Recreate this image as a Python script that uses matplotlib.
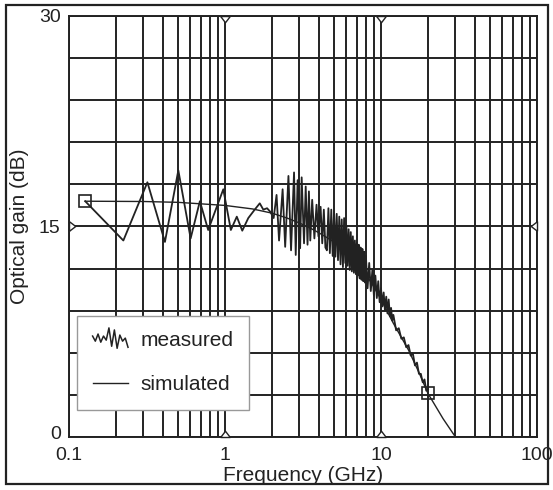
import numpy as np
import matplotlib.pyplot as plt
from matplotlib.legend_handler import HandlerBase
from matplotlib.lines import Line2D
from matplotlib.patches import Rectangle
from matplotlib.transforms import ScaledTranslation

plt.rcParams['font.family'] = ['Liberation Sans', 'DejaVu Sans']

# measured gain (GHz, dB)
f_meas = [0.127, 0.223, 0.318, 0.412, 0.502, 0.602, 0.69, 0.78, 0.975, 1.09,
          1.19, 1.29, 1.41, 1.55, 1.67, 1.76, 1.86, 1.95, 2.05, 2.14,
          2.22, 2.34, 2.43, 2.55, 2.65, 2.77, 2.84, 2.92, 3.03, 3.10,
          3.21, 3.29, 3.38, 3.45, 3.52, 3.62, 3.74, 3.86, 3.97, 4.1,
          4.2, 4.3, 4.4, 4.5, 4.6, 4.7, 4.8, 4.9, 5.0, 5.1,
          5.2, 5.3, 5.4, 5.5, 5.6, 5.7, 5.8, 5.9, 6.0, 6.1,
          6.2, 6.3, 6.4, 6.5, 6.6, 6.7, 6.8, 6.9, 7.0, 7.1,
          7.2, 7.3, 7.4, 7.5, 7.6, 7.7, 7.8, 7.9, 8.0, 8.2,
          8.4, 8.6, 8.8, 9.0, 9.2, 9.4, 9.6, 9.8, 10.0, 10.2,
          10.4, 10.6, 10.8, 11.0, 11.2, 11.4, 11.6, 11.8, 12.0, 12.5,
          13.0, 13.5, 14.0, 14.5, 15.0, 15.5, 16.0, 16.5, 17.0, 17.5,
          18.0, 18.5, 19.0, 19.5, 20.0]
g_meas = [16.8, 14.0, 18.15, 13.9, 19.0, 14.15, 16.8, 14.75, 17.65, 14.75,
          15.7, 14.7, 15.6, 16.2, 16.65, 16.2, 16.3, 16.05, 15.6, 17.25,
          14.0, 17.65, 13.55, 18.6, 13.3, 18.85, 12.97, 18.3, 13.45, 18.5,
          13.8, 17.85, 13.7, 17.5, 14.0, 16.9, 14.15, 16.55, 14.3, 16.4,
          13.8, 16.2, 13.5, 13.3, 16.3, 13.1, 16.2, 12.9, 16.1, 12.85,
          15.9, 12.6, 15.7, 12.3, 15.5, 12.1, 15.6, 12.4, 15.0, 12.2,
          14.8, 11.9, 14.6, 11.8, 14.3, 11.7, 14.0, 11.6, 13.8, 11.5,
          13.7, 11.3, 13.5, 11.2, 13.4, 11.1, 13.2, 11.0, 12.9, 10.6,
          12.4, 10.4, 11.9, 10.1, 11.5, 9.9, 11.1, 9.6, 10.6, 9.3,
          10.3, 9.0, 10.0, 8.8, 9.8, 8.6, 9.2, 8.3, 8.7, 7.6,
          7.75, 7.0, 7.1, 6.4, 6.55, 5.8, 5.95, 5.1, 5.3, 4.5,
          4.5, 3.9, 4.1, 3.3, 3.4]

# simulated response
f_sim = [0.127, 0.3, 0.5, 1.0, 1.5, 2.0, 2.5, 3.0, 3.5, 4.0, 5.0, 6.0, 7.0,
         8.0, 9.0, 10.0, 12.0, 15.0, 17.5, 20.0, 25.0, 30.0]
g_sim = [16.8, 16.78, 16.72, 16.5, 16.25, 15.95, 15.6, 15.25, 14.9, 14.55,
         13.9, 13.2, 12.45, 11.6, 10.7, 9.8, 8.1, 6.2, 4.6, 3.1, 1.3, 0.0]

# marked points and cursor positions
f_marks = [0.127, 20.0]
g_marks = [16.8, 3.1]
cursor_f = [1, 10]
cursor_g = [15]

x_ticks = [0.1, 1, 10, 100]
x_ticklabels = ['0.1', '1', '10', '100']
y_ticks = [0, 15, 30]

ink = '#222222'


class ZigzagHandler(HandlerBase):
    def create_artists(self, legend, orig_handle, xdescent, ydescent,
                       width, height, fontsize, trans):
        xs = np.linspace(0, 1, 14)
        ys = np.array([0.3, -0.2, 0.5, -0.3, 0.3, -0.1, 1.1, -0.7, 0.9,
                       -0.9, 0.4, -0.2, 0.1, -0.8])
        ln = Line2D(-xdescent + xs * width,
                    -ydescent + height / 2 + ys * height * 0.7,
                    color=ink, lw=1.1)
        ln.set_transform(trans)
        return [ln]


fig = plt.figure(figsize=(5.53, 4.90), dpi=100)
ax = fig.add_axes([0.1248, 0.1082, 0.8463, 0.8592])
fig.patches.append(Rectangle((0.011, 0.012), 0.98, 0.978, transform=fig.transFigure,
                             fill=False, ec=ink, lw=1.6))

ax.set_xscale('log')
ax.set_xlim(0.1, 100)
ax.set_ylim(0, 30)
ax.set_xticks(x_ticks)
ax.set_xticklabels(x_ticklabels)
ax.set_yticks(y_ticks)
ax.set_yticks(np.arange(0, 31, 3), minor=True)
ax.tick_params(which='both', length=0, labelsize=14, colors=ink)
ax.tick_params(axis='y', pad=6)
ax.tick_params(axis='x', pad=7)
ax.grid(True, which='both', color=ink, lw=1.4)
for s in ax.spines.values():
    s.set_color(ink)
    s.set_linewidth(1.4)

# nudge the "0" label up a little, as in the original
zero_lab = ax.get_yticklabels()[0]
zero_lab.set_transform(zero_lab.get_transform() + ScaledTranslation(0, 4 / 100, fig.dpi_scale_trans))

meas, = ax.plot(f_meas, g_meas, color=ink, lw=1.3, label='measured')
sim, = ax.plot(f_sim, g_sim, color=ink, lw=1.0, label='simulated')
ax.plot(f_marks, g_marks, ls='none', marker='s', ms=8, mfc='none', mec=ink, mew=1.2)

down = [(-1, 0), (1, 0), (0, -1.3), (-1, 0)]
up = [(-1, 0), (1, 0), (0, 1.3), (-1, 0)]
right = [(0, -1), (0, 1), (1.3, 0), (0, -1)]
left = [(0, -1), (0, 1), (-1.3, 0), (0, -1)]
kw = dict(ls='none', ms=9, mfc='white', mec=ink, mew=1.0, clip_on=False, zorder=5)
ax.plot(cursor_f, [30] * len(cursor_f), marker=down, **kw)
ax.plot(cursor_f, [0] * len(cursor_f), marker=up, **kw)
ax.plot([0.1], cursor_g, marker=right, **kw)
ax.plot([100], cursor_g, marker=left, **kw)

ax.set_xlabel('Frequency (GHz)', fontsize=15, color=ink, labelpad=2)
ax.set_ylabel('Optical gain (dB)', fontsize=15, color=ink, labelpad=7)

leg = ax.legend(handles=[meas, sim], loc='lower left', bbox_to_anchor=(0.017, 0.064),
                borderaxespad=0, fontsize=15, fancybox=False, framealpha=1,
                edgecolor='#999999', handlelength=1.7, handletextpad=0.6,
                labelspacing=1.2, borderpad=0.75,
                handler_map={meas: ZigzagHandler()})
leg.get_frame().set_linewidth(1.0)
for t in leg.get_texts():
    t.set_color(ink)

fig.savefig('out.png', dpi=100)
